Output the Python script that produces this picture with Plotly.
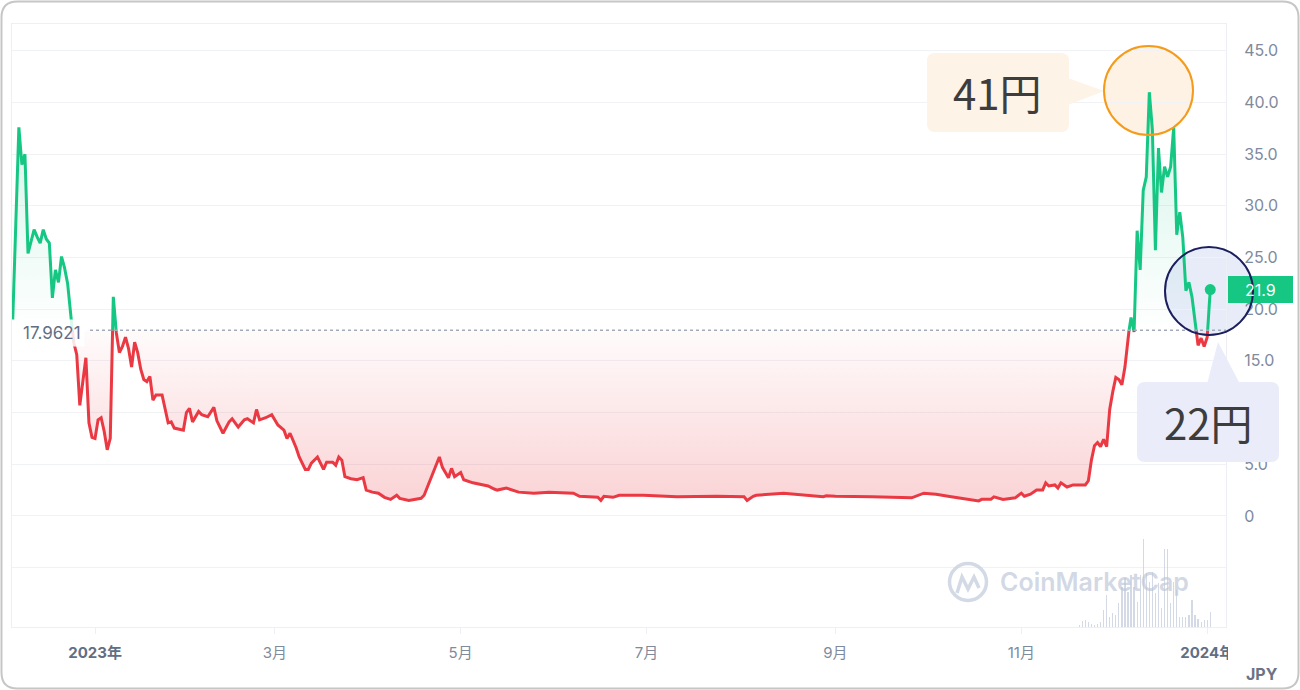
import plotly.graph_objects as go
import pandas as pd

# ---------------- data ----------------
price_dates = [
    "2022-12-05", "2022-12-07", "2022-12-08", "2022-12-09", "2022-12-10", "2022-12-11", "2022-12-12",
    "2022-12-13", "2022-12-14", "2022-12-15", "2022-12-16", "2022-12-17", "2022-12-18", "2022-12-19",
    "2022-12-20", "2022-12-21", "2022-12-22", "2022-12-23", "2022-12-24", "2022-12-25", "2022-12-26",
    "2022-12-27", "2022-12-28", "2022-12-29", "2022-12-30", "2022-12-31", "2023-01-01", "2023-01-02",
    "2023-01-03", "2023-01-04", "2023-01-05", "2023-01-06", "2023-01-07", "2023-01-08", "2023-01-09",
    "2023-01-10", "2023-01-11", "2023-01-12", "2023-01-13", "2023-01-14", "2023-01-15", "2023-01-16",
    "2023-01-17", "2023-01-18", "2023-01-19", "2023-01-20", "2023-01-21", "2023-01-23", "2023-01-25",
    "2023-01-26", "2023-01-27", "2023-01-30", "2023-01-31", "2023-02-01", "2023-02-02", "2023-02-04",
    "2023-02-05", "2023-02-07", "2023-02-09", "2023-02-10", "2023-02-12", "2023-02-14", "2023-02-15",
    "2023-02-17", "2023-02-19", "2023-02-20", "2023-02-22", "2023-02-23", "2023-02-24", "2023-02-26",
    "2023-02-28", "2023-03-02", "2023-03-04", "2023-03-05", "2023-03-06", "2023-03-08", "2023-03-09",
    "2023-03-11", "2023-03-12", "2023-03-13", "2023-03-15", "2023-03-17", "2023-03-18", "2023-03-20",
    "2023-03-21", "2023-03-22", "2023-03-23", "2023-03-24", "2023-03-26", "2023-03-28", "2023-03-30",
    "2023-03-31", "2023-04-02", "2023-04-04", "2023-04-06", "2023-04-08", "2023-04-10", "2023-04-11",
    "2023-04-14", "2023-04-18", "2023-04-19", "2023-04-21", "2023-04-24", "2023-04-25", "2023-04-27",
    "2023-04-28", "2023-04-29", "2023-05-01", "2023-05-02", "2023-05-05", "2023-05-07", "2023-05-10",
    "2023-05-12", "2023-05-13", "2023-05-16", "2023-05-20", "2023-05-25", "2023-05-30", "2023-06-07",
    "2023-06-09", "2023-06-15", "2023-06-16", "2023-06-17", "2023-06-20", "2023-06-22", "2023-06-30",
    "2023-07-11", "2023-07-24", "2023-08-02", "2023-08-03", "2023-08-05", "2023-08-06", "2023-08-15",
    "2023-08-23", "2023-08-28", "2023-08-29", "2023-09-01", "2023-09-13", "2023-09-26", "2023-09-30",
    "2023-10-04", "2023-10-09", "2023-10-13", "2023-10-18", "2023-10-19", "2023-10-22", "2023-10-23",
    "2023-10-26", "2023-10-30", "2023-11-01", "2023-11-02", "2023-11-04", "2023-11-06", "2023-11-08",
    "2023-11-09", "2023-11-10", "2023-11-12", "2023-11-13", "2023-11-14", "2023-11-16", "2023-11-18",
    "2023-11-22", "2023-11-23", "2023-11-24", "2023-11-25", "2023-11-26", "2023-11-27", "2023-11-28",
    "2023-11-29", "2023-11-30", "2023-12-01", "2023-12-02", "2023-12-03", "2023-12-04", "2023-12-05",
    "2023-12-06", "2023-12-07", "2023-12-08", "2023-12-09", "2023-12-10", "2023-12-11", "2023-12-12",
    "2023-12-13", "2023-12-14", "2023-12-15", "2023-12-16", "2023-12-17", "2023-12-18", "2023-12-19",
    "2023-12-20", "2023-12-21", "2023-12-22", "2023-12-23", "2023-12-24", "2023-12-25", "2023-12-26",
    "2023-12-27", "2023-12-29", "2023-12-30", "2023-12-31", "2024-01-01", "2024-01-02",
]
price_values = [
    19.0, 37.6, 34.0, 35.0, 25.4, 26.5, 27.7,
    27.0, 26.4, 27.7, 26.8, 26.4, 21.1, 23.8,
    22.6, 25.1, 24.0, 22.5, 19.4, 16.8, 15.6,
    10.7, 13.0, 15.3, 9.0, 7.6, 7.5, 9.3,
    9.5, 8.2, 6.4, 7.5, 21.2, 17.7, 15.8,
    16.4, 17.3, 16.2, 14.4, 16.8, 15.8, 14.2,
    13.2, 13.0, 13.5, 11.2, 11.7, 11.7, 9.0,
    9.1, 8.5, 8.3, 10.0, 10.4, 9.1, 10.1,
    9.8, 9.6, 10.5, 9.2, 8.0, 9.1, 9.4,
    8.6, 9.3, 9.4, 9.0, 10.3, 9.3, 9.5,
    9.8, 8.8, 8.3, 7.5, 8.0, 6.6, 5.7,
    4.5, 4.5, 5.1, 5.7, 4.5, 5.2, 5.2,
    4.9, 5.7, 5.4, 3.8, 3.6, 3.5, 3.7,
    2.5, 2.3, 2.2, 1.8, 1.6, 2.0, 1.7,
    1.5, 1.7, 2.0, 3.5, 5.7, 4.7, 3.7,
    4.6, 3.8, 4.2, 3.5, 3.2, 3.1, 2.9,
    2.6, 2.5, 2.7, 2.3, 2.2, 2.3, 2.2,
    1.9, 1.8, 1.5, 1.9, 1.8, 2.0, 2.0,
    1.85, 1.9, 1.85, 1.5, 1.9, 2.0, 2.2,
    2.0, 1.85, 1.95, 1.9, 1.85, 1.75, 2.2,
    2.1, 1.85, 1.7, 1.45, 1.6, 1.6, 1.85,
    1.6, 1.75, 2.2, 1.9, 2.1, 2.5, 2.5,
    3.2, 2.9, 3.0, 2.7, 3.2, 2.8, 3.0,
    3.0, 3.4, 5.4, 6.8, 7.1, 6.7, 7.4,
    6.7, 10.3, 12.0, 13.4, 13.2, 12.7, 14.4,
    17.3, 19.2, 17.8, 27.6, 23.8, 31.5, 32.8,
    41.0, 37.4, 25.7, 35.6, 31.3, 33.8, 32.8,
    33.8, 37.6, 27.2, 29.4, 26.9, 21.8, 22.6,
    21.2, 16.5, 17.2, 16.4, 17.3, 21.9,
]

vol_start = "2023-11-20"
vol_values = [
    2, 6, 7, 5, 3, 2, 3, 5,
    17, 32, 10, 14, 12, 24, 40, 49, 35, 52, 40, 25, 52, 88, 54, 45, 55, 34,
    44, 19, 78, 78, 24, 45, 37, 10, 10, 10, 12, 27, 12, 8, 5, 7, 7, 15,
]

baseline = 17.9621
last_text = "21.9"
y_tickvals = [-5, 0, 5, 10, 15, 20, 25, 30, 35, 40, 45]
y_ticktext = ["", "0", "5.0", "10.0", "15.0", "20.0", "25.0", "30.0", "35.0", "40.0", "45.0"]
x_tickvals = ["2023-01-01", "2023-03-01", "2023-05-01", "2023-07-01", "2023-09-01", "2023-11-01", "2024-01-01"]
x_ticktext = ["<b><span style='color:#616e85'>2023年</span></b>", "3月", "5月", "7月", "9月", "11月",
              "<b><span style='color:#616e85'>2024年</span></b>"]
peak_label = "41円"
last_label = "22円"
currency = "JPY"
watermark = "CoinMarketCap"

GREEN = "#16c784"
RED = "#ea3943"

# ---------------- geometry helpers (pixel -> paper) ----------------
W, H = 1300, 690
L, R, T, B = 12, 1226, 24, 627


def fx(px):
    return (px - L) / (R - L)


def fy(py):
    return (B - py) / (B - T)


def rrect_path(x0, y0, x1, y1, r):
    pts = [
        ("M", [(x0 + r, y0)]), ("L", [(x1 - r, y0)]), ("Q", [(x1, y0), (x1, y0 + r)]),
        ("L", [(x1, y1 - r)]), ("Q", [(x1, y1), (x1 - r, y1)]), ("L", [(x0 + r, y1)]),
        ("Q", [(x0, y1), (x0, y1 - r)]), ("L", [(x0, y0 + r)]), ("Q", [(x0, y0), (x0 + r, y0)]),
    ]
    s = ""
    for cmd, ps in pts:
        s += cmd + " " + " ".join(f"{fx(a):.5f},{fy(b):.5f}" for a, b in ps) + " "
    return s + "Z"


def poly_path(points):
    s = "M " + " L ".join(f"{fx(a):.5f},{fy(b):.5f}" for a, b in points)
    return s + " Z"


def circle(cx, cy, r, line, fill, width=2, layer="above"):
    return dict(type="circle", xref="paper", yref="paper", layer=layer,
                x0=fx(cx - r), x1=fx(cx + r), y0=fy(cy + r), y1=fy(cy - r),
                line=dict(color=line, width=width), fillcolor=fill)


# ---------------- split series at baseline crossings ----------------
t_ms = list(pd.to_datetime(price_dates).astype("int64") // 10**6)
aug_t, aug_v = [], []
for i, v in enumerate(price_values):
    if i > 0:
        v0 = price_values[i - 1]
        if (v0 - baseline) * (v - baseline) < 0:
            f = (baseline - v0) / (v - v0)
            aug_t.append(t_ms[i - 1] + f * (t_ms[i] - t_ms[i - 1]))
            aug_v.append(baseline)
    aug_t.append(t_ms[i])
    aug_v.append(v)
aug_x = pd.to_datetime(aug_t, unit="ms")
up_v = [max(v, baseline) for v in aug_v]
dn_v = [min(v, baseline) for v in aug_v]
green_v = [v if v >= baseline else None for v in aug_v]
red_v = [v if v <= baseline else None for v in aug_v]
base_v = [baseline] * len(aug_v)

vol_dates = pd.date_range(vol_start, periods=len(vol_values), freq="D")

fig = go.Figure()

fig.add_trace(go.Bar(x=vol_dates, y=vol_values, yaxis="y2", width=0.4 * 86400000,
                     marker=dict(color="rgba(200,208,223,0.8)", line=dict(width=0)),
                     hoverinfo="skip", showlegend=False))

fig.add_trace(go.Scatter(x=aug_x, y=base_v, mode="lines", line=dict(width=0),
                         hoverinfo="skip", showlegend=False))
fig.add_trace(go.Scatter(x=aug_x, y=up_v, mode="lines", line=dict(width=0), fill="tonexty",
                         fillgradient=dict(type="vertical", start=baseline, stop=41,
                                           colorscale=[[0, "rgba(22,199,132,0.0)"],
                                                       [1, "rgba(22,199,132,0.20)"]]),
                         hoverinfo="skip", showlegend=False))
fig.add_trace(go.Scatter(x=aug_x, y=base_v, mode="lines", line=dict(width=0),
                         hoverinfo="skip", showlegend=False))
fig.add_trace(go.Scatter(x=aug_x, y=dn_v, mode="lines", line=dict(width=0), fill="tonexty",
                         fillgradient=dict(type="vertical", start=1.5, stop=baseline,
                                           colorscale=[[0, "rgba(234,57,67,0.22)"],
                                                       [1, "rgba(234,57,67,0.02)"]]),
                         hoverinfo="skip", showlegend=False))

fig.add_trace(go.Scatter(x=aug_x, y=red_v, mode="lines", connectgaps=False,
                         line=dict(color=RED, width=3), showlegend=False))
fig.add_trace(go.Scatter(x=aug_x, y=green_v, mode="lines", connectgaps=False,
                         line=dict(color=GREEN, width=3), showlegend=False))
fig.add_trace(go.Scatter(x=[price_dates[-1]], y=[price_values[-1]], mode="markers",
                         marker=dict(color=GREEN, size=11), showlegend=False))

shapes = []
# circle fills (below the price line)
shapes.append(circle(1148.5, 90.5, 44.5, "rgba(0,0,0,0)", "rgba(253,232,205,0.55)", 0, "below"))
shapes.append(circle(1209, 291, 44, "rgba(0,0,0,0)", "rgba(205,213,242,0.45)", 0, "below"))
# outer rounded frame
shapes.append(dict(type="path", xref="paper", yref="paper", layer="above",
                   path=rrect_path(1.5, 1.5, 1298.5, 688.5, 16),
                   line=dict(color="#c6c6c6", width=2), fillcolor="rgba(0,0,0,0)"))
# dotted baseline
shapes.append(dict(type="line", xref="paper", yref="y", x0=fx(90), x1=1, y0=baseline, y1=baseline,
                   line=dict(color="#a3abbb", width=1.5, dash="dot"), layer="above"))
# clip of the 2024 tick label
shapes.append(dict(type="rect", xref="paper", yref="paper", layer="above",
                   x0=fx(1228), x1=fx(1296), y0=fy(666), y1=fy(638),
                   fillcolor="white", line=dict(width=0)))
# watermark logo
shapes.append(circle(968, 582, 18.5, "rgba(196,205,221,0.75)", "rgba(0,0,0,0)", 3.5))
shapes.append(dict(type="path", xref="paper", yref="paper", layer="above",
                   path="M " + " L ".join(f"{fx(a):.5f},{fy(b):.5f}" for a, b in
                                          [(957, 593), (962, 577), (968, 589), (974, 577), (979, 588)]),
                   line=dict(color="rgba(196,205,221,0.75)", width=3.5)))
# 41円 callout
shapes.append(dict(type="path", xref="paper", yref="paper", layer="above",
                   path=rrect_path(927, 53, 1069, 132, 8), fillcolor="#fdf3e7", line=dict(width=0)))
shapes.append(dict(type="path", xref="paper", yref="paper", layer="above",
                   path=poly_path([(1068, 78), (1104, 91), (1068, 105)]), fillcolor="#fdf3e7",
                   line=dict(width=0)))
shapes.append(circle(1148.5, 90.5, 44.5, "#f49b1c", "rgba(0,0,0,0)", 2))
# 21.9 tag
shapes.append(dict(type="rect", xref="paper", yref="paper", layer="above",
                   x0=fx(1228), x1=fx(1293), y0=fy(303), y1=fy(276),
                   fillcolor=GREEN, line=dict(width=0)))
# 22円 callout
shapes.append(dict(type="path", xref="paper", yref="paper", layer="above",
                   path=rrect_path(1137, 382, 1279, 462, 8), fillcolor="#eaedf9", line=dict(width=0)))
shapes.append(dict(type="path", xref="paper", yref="paper", layer="above",
                   path=poly_path([(1207, 384), (1218, 342), (1240, 384)]), fillcolor="#eaedf9",
                   line=dict(width=0)))
shapes.append(circle(1209, 291, 44, "#1b1f5e", "rgba(0,0,0,0)", 2))

FONT = "Inter, Noto Sans CJK JP, sans-serif"
CJK = "Noto Sans CJK JP, sans-serif"

annotations = [
    dict(xref="paper", yref="y", x=fx(52), y=baseline - 0.3, text="17.9621", showarrow=False,
         font=dict(family=FONT, size=17, color="#616e85"), bgcolor="rgba(255,255,255,0.85)",
         borderpad=3, xanchor="center", yanchor="middle"),
    dict(xref="paper", yref="paper", x=fx(1094), y=fy(582), text=watermark, showarrow=False,
         font=dict(family=FONT, size=25, color="rgba(190,199,216,0.7)", weight=600),
         xanchor="center", yanchor="middle"),
    dict(xref="paper", yref="paper", x=fx(997), y=fy(91), text=peak_label, showarrow=False,
         font=dict(family=CJK, size=42, color="#3d3d3d"), xanchor="center", yanchor="middle"),
    dict(xref="paper", yref="paper", x=fx(1208), y=fy(421), text=last_label, showarrow=False,
         font=dict(family=CJK, size=42, color="#3d3d3d"), xanchor="center", yanchor="middle"),
    dict(xref="paper", yref="paper", x=fx(1260), y=fy(290), text=last_text, showarrow=False,
         font=dict(family=FONT, size=16, color="white"), xanchor="center", yanchor="middle"),
    dict(xref="paper", yref="paper", x=fx(1262), y=fy(674), text=f"<b>{currency}</b>", showarrow=False,
         font=dict(family=FONT, size=16, color="#6b7385"), xanchor="center", yanchor="middle"),
]

fig.update_layout(
    width=W, height=H, autosize=False,
    margin=dict(l=L, r=W - R, t=T, b=H - B, pad=0),
    paper_bgcolor="white", plot_bgcolor="white",
    showlegend=False, shapes=shapes, annotations=annotations,
    font=dict(family=FONT),
    bargap=0,
    xaxis=dict(type="date", range=["2022-12-04 18:00", "2024-01-07 04:00"],
               tickvals=x_tickvals, ticktext=x_ticktext, tickangle=0,
               tickfont=dict(family=FONT, size=15, color="#808a9d"),
               showgrid=False, zeroline=False, showline=True, mirror=True,
               linecolor="#eceff3", linewidth=1,
               ticks="outside", ticklen=6, tickcolor="#eceff3", ticklabelstandoff=6),
    yaxis=dict(range=[-10.75, 47.6], side="right", tickvals=y_tickvals, ticktext=y_ticktext,
               tickfont=dict(family=FONT, size=16, color="#808a9d"),
               showgrid=True, gridcolor="#f0f2f5", gridwidth=1, zeroline=False,
               showline=True, mirror=True, linecolor="#eceff3", linewidth=1,
               ticks="", ticklabelstandoff=14),
    yaxis2=dict(overlaying="y", range=[0, B - T], visible=False),
)

fig.write_html("out.html", config={"displayModeBar": False},
               post_script="document.body.style.margin='0';document.body.style.overflow='hidden';")
